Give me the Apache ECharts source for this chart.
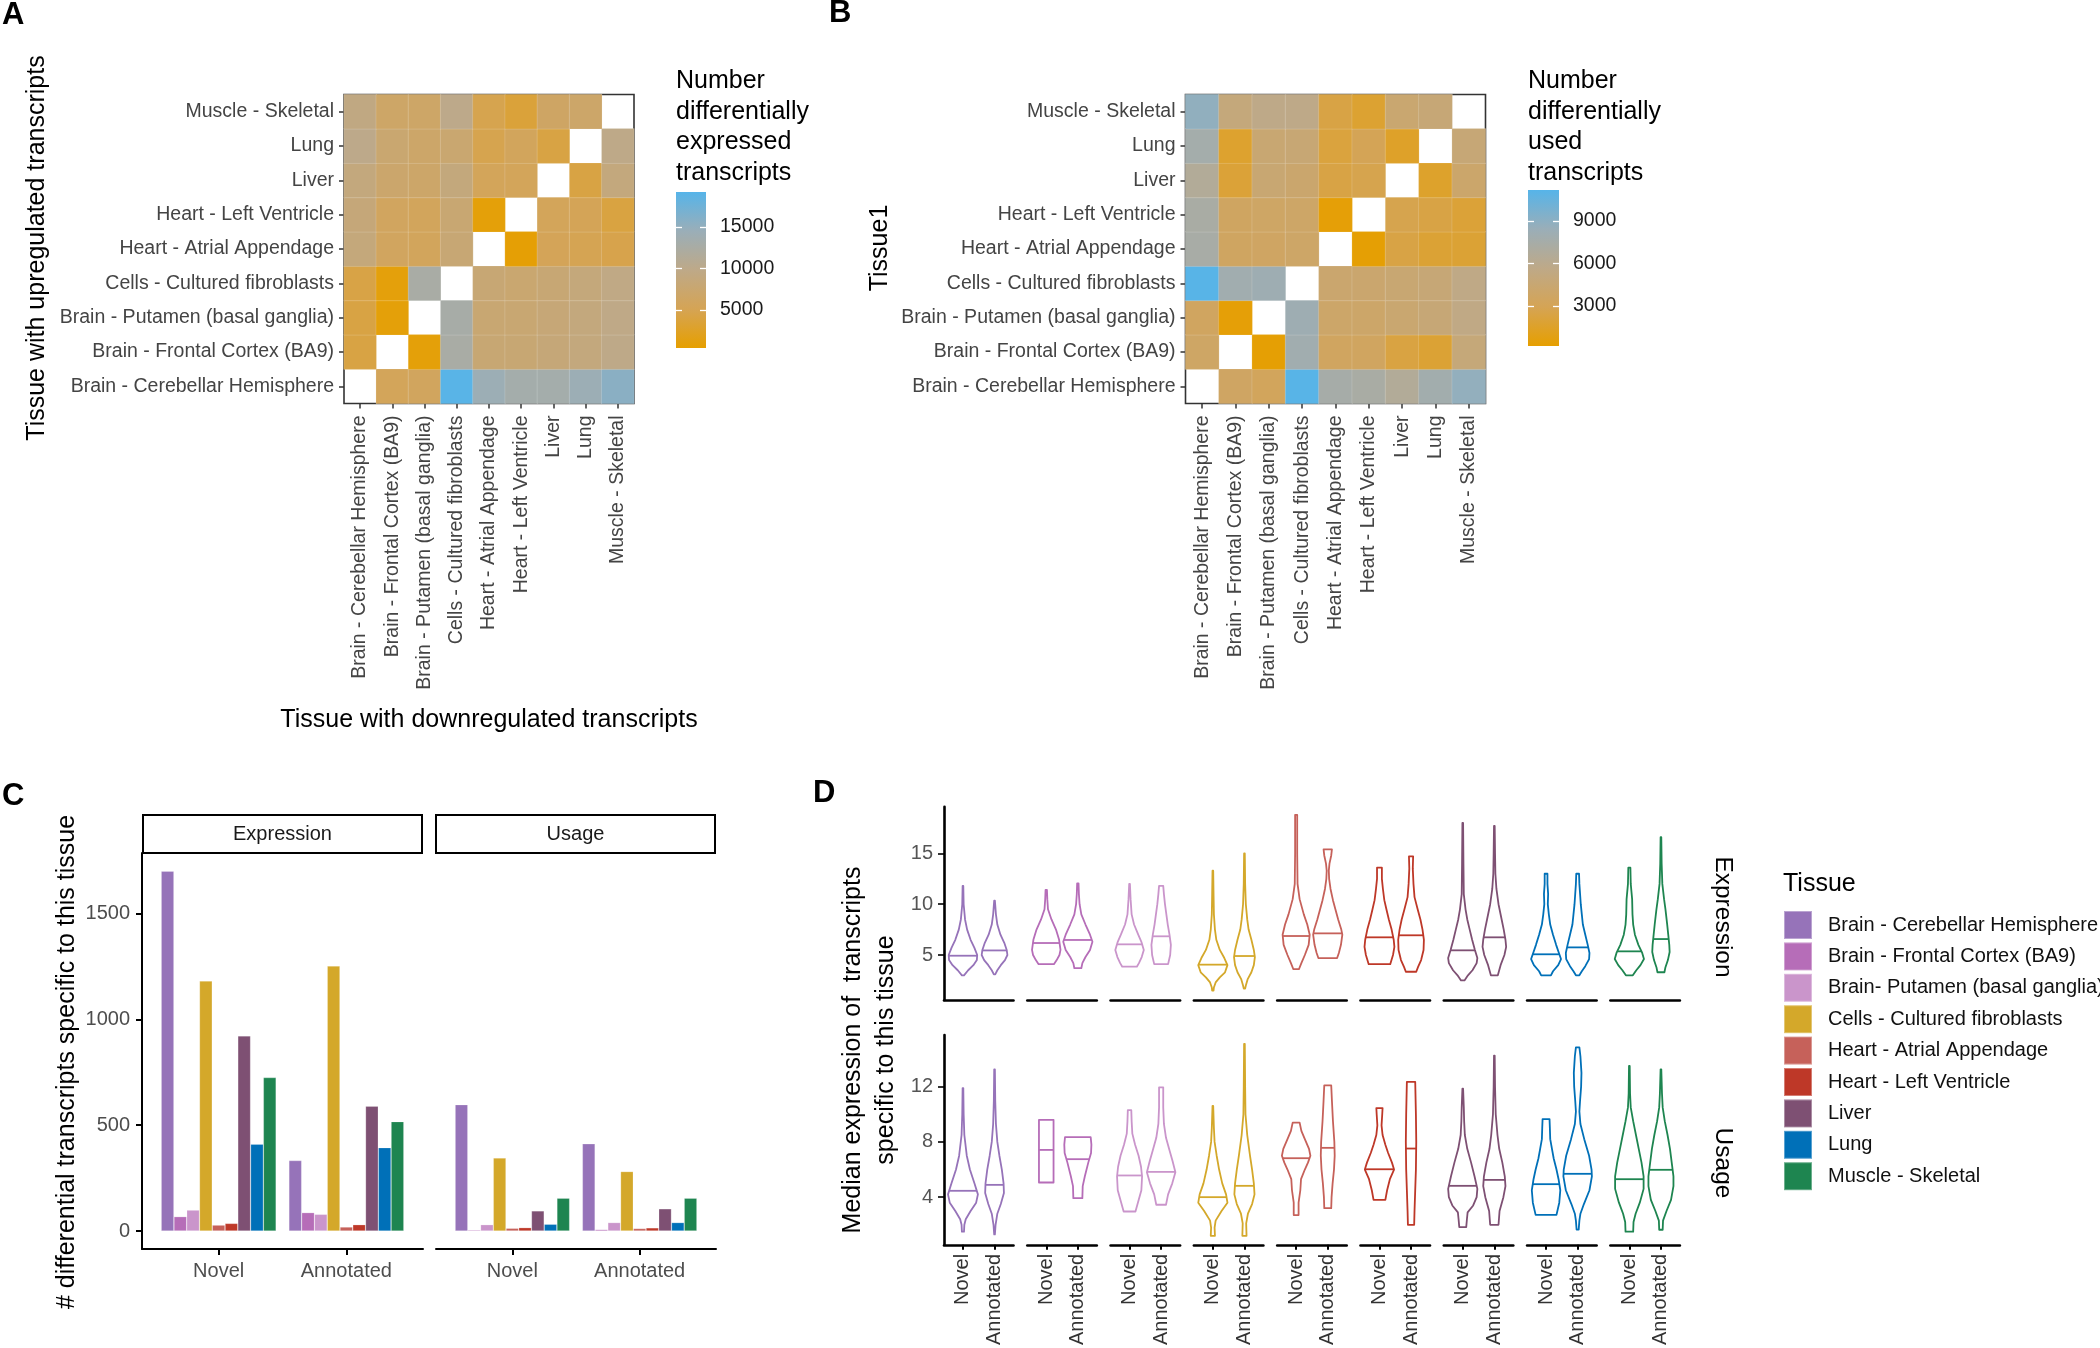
<!DOCTYPE html>
<html><head><meta charset="utf-8">
<script src="https://cdn.jsdelivr.net/npm/echarts@6/dist/echarts.min.js"></script>
<style>html,body{margin:0;padding:0;background:#fff}#c{width:2100px;height:1348px}</style>
</head><body><div id="c"></div>
<script>
const FONT = '"Liberation Sans", Arial, Helvetica, sans-serif';

// ---------- categories ----------
const heatTissues = ['Brain - Cerebellar Hemisphere','Brain - Frontal Cortex (BA9)','Brain - Putamen (basal ganglia)','Cells - Cultured fibroblasts','Heart - Atrial Appendage','Heart - Left Ventricle','Liver','Lung','Muscle - Skeletal'];
const legendTissues = ['Brain - Cerebellar Hemisphere','Brain - Frontal Cortex (BA9)','Brain- Putamen (basal ganglia)','Cells - Cultured fibroblasts','Heart - Atrial Appendage','Heart - Left Ventricle','Liver','Lung','Muscle - Skeletal'];
const tissueColors = ['#9673B9','#B66DB8','#CA95CB','#D4A82A','#C6615A','#BE3828','#7E5073','#0070B8','#1E8550'];
const gradientColors = ['#E69F00','#D5A455','#BEA988','#9AAEB8','#56B4E9'];
const groups = ['Novel','Annotated'];

// ---------- panel A: differentially expressed (rows = upregulated tissue, cols = downregulated) ----------
const deRange = [420, 19200];
const deTicks = [5000, 10000, 15000];
const expressedCounts = [
  [null, 5600, 5900, 19000, 14200, 13200, 13200, 14200, 15600],
  [4200, null, 900, 12600, 7900, 7900, 8300, 8800, 9800],
  [4200, 900, null, 12800, 7800, 7800, 8200, 8800, 9700],
  [4300, 1000, 12600, null, 8000, 7600, 8000, 8600, 9500],
  [8600, 6000, 5800, 8000, null, 700, 5400, 5000, 4600],
  [8400, 6000, 5800, 7800, 900, null, 5600, 5300, 4000],
  [8800, 7200, 7000, 8700, 5600, 5600, null, 4200, 8800],
  [10000, 7600, 7000, 7600, 4800, 5800, 4200, null, 9800],
  [9300, 6800, 6800, 10000, 4800, 3600, 6500, 7000, null]
];
// ---------- panel B: differentially used ----------
const duRange = [176, 11190];
const duTicks = [3000, 6000, 9000];
const usedCounts = [
  [null, 3700, 3300, 11100, 7500, 7300, 6600, 7800, 8700],
  [3800, null, 300, 7900, 3500, 3500, 2300, 1900, 4900],
  [3500, 400, null, 8100, 4000, 4000, 4400, 4700, 5500],
  [11100, 7900, 8100, null, 4300, 4300, 4500, 4700, 5600],
  [7400, 3600, 3700, 3900, null, 300, 2400, 1900, 1900],
  [7300, 3600, 3800, 3900, 400, null, 2700, 2400, 2000],
  [6600, 2000, 4500, 4200, 2400, 2700, null, 1600, 4100],
  [7700, 1700, 4500, 4600, 2200, 3000, 1500, null, 4700],
  [8800, 5000, 5700, 5700, 2400, 1800, 4400, 4700, null]
];

// ---------- panel C: bar counts ----------
const countRange = [-85, 1786];
const countTicks = [0, 500, 1000, 1500];
const exprNovel = [1700, 68, 99, 1181, 28, 36, 922, 410, 725];
const exprAnnotated = [333, 87, 79, 1252, 19, 30, 590, 394, 517];
const usageNovel = [597, 5, 30, 345, 13, 16, 95, 32, 155];
const usageAnnotated = [412, 7, 40, 281, 12, 15, 105, 40, 155];

// ---------- panel D: violins ([value, half-width as fraction of group band]) ----------
const exprRange = [0.57, 19.6];
const exprTicks = [5, 10, 15];
const usageRange = [0.55, 15.74];
const usageTicks = [4, 8, 12];
const exprNovelMedian = [4.93, 6.18, 6.05, 4.05, 6.87, 6.74, 5.46, 5.07, 5.36];
const exprAnnotatedMedian = [5.45, 6.48, 6.84, 4.9, 7.13, 6.94, 6.74, 5.75, 6.57];
const usageNovelMedian = [4.46, 7.42, 5.57, 4.0, 6.82, 6.02, 4.82, 4.94, 5.3];
const usageAnnotatedMedian = [4.89, 6.75, 5.83, 4.82, 7.57, 7.52, 5.25, 5.69, 5.98];
const exprNovelShape = [
  [[11.8,0.01],[10,0.02],[8.5,0.06],[7.5,0.12],[6.5,0.22],[5.7,0.33],[5,0.41],[4.5,0.4],[4,0.3],[3.5,0.15],[3.0,0.03]],
  [[11.4,0.02],[10.5,0.03],[9.5,0.05],[8.5,0.15],[7.5,0.28],[6.5,0.37],[5.5,0.41],[5,0.38],[4.5,0.3],[4.1,0.22]],
  [[12,0.01],[10.5,0.03],[9,0.06],[8,0.13],[7,0.25],[6.3,0.34],[5.5,0.41],[4.8,0.35],[4.2,0.27],[3.85,0.21]],
  [[13.3,0.01],[11,0.02],[9,0.03],[7.5,0.06],[6.5,0.1],[5.5,0.2],[4.7,0.33],[4,0.42],[3.3,0.35],[2.8,0.2],[2.3,0.08],[1.8,0.03],[1.5,0.02]],
  [[18.8,0.03],[15,0.03],[12,0.04],[10.5,0.1],[9,0.22],[8,0.32],[7,0.39],[6,0.36],[5,0.25],[4.2,0.15],[3.6,0.08]],
  [[13.6,0.07],[12.5,0.07],[11.5,0.1],[10.4,0.14],[9.5,0.2],[8.5,0.27],[7.5,0.35],[6.5,0.41],[5.8,0.43],[5,0.39],[4.1,0.31]],
  [[18,0.01],[14,0.02],[11,0.03],[9.5,0.08],[8.5,0.13],[7.5,0.2],[6.5,0.27],[5.5,0.35],[4.7,0.42],[4.2,0.4],[3.5,0.28],[3,0.15],[2.5,0.05]],
  [[13,0.04],[12,0.04],[11,0.06],[10,0.05],[9,0.08],[8,0.12],[7,0.2],[6,0.29],[5.3,0.36],[4.6,0.43],[4,0.35],[3.4,0.2],[3,0.14]],
  [[13.6,0.03],[12,0.04],[10.5,0.08],[9,0.09],[8,0.11],[7,0.16],[6,0.26],[5.2,0.37],[4.6,0.42],[4,0.32],[3.5,0.2],[3,0.1]]
];
const exprAnnotatedShape = [
  [[10.35,0.01],[9,0.04],[8,0.08],[7,0.17],[6.2,0.28],[5.5,0.35],[5,0.37],[4.5,0.3],[4,0.18],[3.5,0.08],[3.1,0.02]],
  [[12.05,0.02],[11,0.03],[10,0.05],[9,0.1],[8,0.22],[7,0.35],[6.3,0.42],[5.5,0.35],[4.8,0.22],[4.2,0.13],[3.7,0.1]],
  [[11.8,0.06],[11,0.08],[10,0.11],[9,0.15],[8,0.19],[7,0.24],[6,0.28],[5,0.26],[4.1,0.2]],
  [[15,0.01],[12,0.02],[10,0.04],[8.5,0.08],[7.5,0.12],[6.5,0.2],[5.5,0.27],[4.8,0.3],[4,0.27],[3.3,0.2],[2.6,0.09],[2,0.04],[1.7,0.02]],
  [[15.4,0.12],[14.8,0.1],[14,0.05],[13.3,0.03],[12.5,0.04],[11.5,0.08],[10.4,0.15],[9.5,0.22],[8.5,0.3],[7.5,0.39],[7,0.42],[6,0.38],[5.2,0.32],[4.7,0.27]],
  [[14.7,0.06],[13.5,0.05],[12,0.07],[10.7,0.1],[9.5,0.19],[8.5,0.27],[7.5,0.33],[6.5,0.37],[5.5,0.36],[4.5,0.29],[3.8,0.2],[3.35,0.15]],
  [[17.7,0.01],[15,0.02],[13,0.03],[11.5,0.06],[10,0.12],[8.5,0.21],[7.5,0.27],[6.5,0.32],[5.8,0.34],[5,0.29],[4,0.18],[3,0.1]],
  [[13,0.04],[12,0.05],[11,0.07],[10,0.09],[9,0.12],[8,0.15],[7,0.22],[6,0.29],[5.2,0.34],[4.6,0.33],[3.9,0.22],[3.4,0.12],[3,0.05]],
  [[16.6,0.01],[14,0.02],[12,0.04],[10.5,0.09],[9.5,0.13],[8,0.18],[7,0.21],[6,0.24],[5.3,0.25],[4.5,0.2],[3.8,0.13],[3.3,0.1]]
];
const usageNovelShape = [
  [[11.9,0.01],[10,0.02],[8.5,0.04],[7,0.11],[6,0.2],[5,0.33],[4.2,0.43],[3.6,0.38],[3,0.22],[2.4,0.08],[2,0.04],[1.5,0.03]],
  [[9.6,0.21],[5.06,0.21]],
  [[10.3,0.05],[9.5,0.06],[8.6,0.08],[7.8,0.16],[7,0.26],[6.2,0.33],[5.5,0.36],[4.5,0.34],[3.6,0.24],[2.96,0.17]],
  [[10.6,0.01],[9,0.03],[8,0.05],[7,0.11],[6,0.18],[5,0.27],[4.2,0.38],[3.6,0.42],[3,0.25],[2.3,0.08],[1.8,0.05],[1.2,0.06]],
  [[9.4,0.1],[8.8,0.15],[8.2,0.25],[7.5,0.37],[7,0.41],[6.5,0.34],[6,0.25],[5.3,0.14],[4.5,0.12],[3.6,0.07],[2.7,0.07]],
  [[10.45,0.09],[10,0.08],[9.2,0.06],[8.5,0.09],[7.8,0.17],[7.2,0.25],[6.5,0.36],[6,0.42],[5.3,0.3],[4.5,0.22],[3.8,0.17]],
  [[11.85,0.01],[10.5,0.03],[9.5,0.04],[8.5,0.06],[7.5,0.13],[6.5,0.24],[5.5,0.34],[4.6,0.42],[4,0.4],[3.4,0.3],[2.9,0.14],[2.4,0.12],[1.83,0.1]],
  [[9.65,0.1],[9,0.11],[8.2,0.12],[7.5,0.17],[6.8,0.22],[6,0.3],[5.3,0.36],[4.5,0.41],[3.6,0.38],[2.72,0.3]],
  [[13.5,0.01],[11.5,0.02],[10.5,0.04],[9.5,0.11],[8.5,0.19],[7.5,0.27],[6.5,0.35],[5.5,0.41],[4.6,0.41],[3.6,0.3],[2.8,0.18],[2.2,0.12],[1.5,0.11]]
];
const usageAnnotatedShape = [
  [[13.25,0.01],[11,0.02],[9.3,0.04],[8,0.08],[7,0.14],[6,0.21],[5,0.26],[4.3,0.27],[3.5,0.18],[2.8,0.08],[2,0.03],[1.3,0.01]],
  [[8.34,0.37],[7.8,0.39],[7.2,0.38],[6.5,0.3],[5.5,0.2],[4.8,0.14],[3.93,0.13]],
  [[11.95,0.06],[10.5,0.06],[9.3,0.08],[8.3,0.14],[7.4,0.24],[6.6,0.33],[5.8,0.41],[5,0.32],[4.2,0.2],[3.45,0.14]],
  [[15.1,0.01],[12,0.02],[10,0.03],[8.5,0.08],[7,0.16],[6,0.22],[5,0.27],[4.2,0.29],[3.5,0.22],[2.8,0.1],[2.1,0.05],[1.2,0.06]],
  [[12.1,0.1],[11,0.12],[9.5,0.15],[8,0.19],[7,0.2],[6,0.18],[5,0.14],[4,0.11],[3.2,0.1]],
  [[12.35,0.12],[10,0.14],[8,0.15],[6,0.14],[4.5,0.12],[3,0.1],[2,0.09]],
  [[14.25,0.01],[12,0.02],[10,0.04],[8.5,0.09],[7.5,0.14],[6.5,0.23],[5.5,0.3],[4.8,0.32],[4,0.26],[3,0.15],[2,0.12]],
  [[14.85,0.05],[14.2,0.08],[13,0.11],[12,0.1],[11,0.07],[10.2,0.05],[9.3,0.08],[8.2,0.19],[7,0.33],[6,0.4],[5.5,0.41],[4.5,0.34],[3.5,0.18],[2.8,0.08],[2.3,0.05],[1.65,0.03]],
  [[13.25,0.01],[11.5,0.03],[10.5,0.05],[9.5,0.11],[8.5,0.19],[7.5,0.26],[6.5,0.31],[5.5,0.36],[4.8,0.36],[3.8,0.29],[3,0.16],[2.3,0.06],[1.64,0.05]]
];

// ---------- build ----------
const grid = [], xAxis = [], yAxis = [], series = [], visualMap = [], graphic = [];
const plainNumber = v => String(v);

function heatPanel(box, matrix, range, ticks, bar) {
  const g = grid.length;
  grid.push({left: box[0], top: box[1], width: box[2], height: box[3], show: true, borderColor: '#333', borderWidth: 1.6, backgroundColor: '#fff'});
  const xi = xAxis.length;
  xAxis.push({gridIndex: g, type: 'category', data: heatTissues,
    axisLine: {show: false, onZero: false},
    axisTick: {show: true, alignWithLabel: true, length: 5, lineStyle: {color: '#333', width: 1.5}},
    axisLabel: {rotate: 90, fontSize: 19.5, color: '#444', margin: 12, fontFamily: FONT},
    splitLine: {show: false}});
  const yi = yAxis.length;
  yAxis.push({gridIndex: g, type: 'category', data: heatTissues,
    axisLine: {show: false, onZero: false},
    axisTick: {show: true, alignWithLabel: true, length: 5, lineStyle: {color: '#333', width: 1.5}},
    axisLabel: {fontSize: 19.5, color: '#444', margin: 10, fontFamily: FONT},
    splitLine: {show: false}});
  const data = [];
  matrix.forEach((row, r) => row.forEach((v, c) => { if (v != null) data.push([c, r, v]); }));
  series.push({type: 'heatmap', xAxisIndex: xi, yAxisIndex: yi, data, silent: true,
    itemStyle: {borderColor: 'rgba(255,255,255,0.2)', borderWidth: 0.8}, emphasis: {disabled: true}});
  visualMap.push({type: 'continuous', show: false, min: range[0], max: range[1], dimension: 2,
    seriesIndex: series.length - 1, inRange: {color: gradientColors}});
  // colour bar
  const cg = grid.length;
  grid.push({left: bar[0], top: bar[1], width: bar[2], height: bar[3]});
  const cx = xAxis.length;
  xAxis.push({gridIndex: cg, type: 'value', min: 0, max: 1, show: false});
  const cy = yAxis.length;
  const tickStyle = {show: true, inside: true, length: 6, customValues: ticks, lineStyle: {color: '#fff', width: 1.3}};
  yAxis.push({gridIndex: cg, type: 'value', min: range[0], max: range[1], position: 'right', z: 10,
    axisLine: {show: false, onZero: false}, splitLine: {show: false}, axisTick: tickStyle,
    axisLabel: {customValues: ticks, formatter: plainNumber, margin: 14, fontSize: 19.5, color: '#1a1a1a', fontFamily: FONT}});
  yAxis.push({gridIndex: cg, type: 'value', min: range[0], max: range[1], position: 'left', z: 10,
    axisLine: {show: false, onZero: false}, splitLine: {show: false}, axisTick: tickStyle, axisLabel: {show: false}});
  const stops = gradientColors.map((c, i) => ({offset: i / (gradientColors.length - 1), color: c}));
  series.push({type: 'custom', xAxisIndex: cx, yAxisIndex: cy, silent: true, z: 1,
    data: [[0, range[0], 1, range[1]]],
    renderItem: (p, api) => {
      const a = api.coord([api.value(0), api.value(3)]);
      const b = api.coord([api.value(2), api.value(1)]);
      return {type: 'rect', shape: {x: a[0], y: a[1], width: b[0] - a[0], height: b[1] - a[1]},
        style: {fill: new echarts.graphic.LinearGradient(0, 1, 0, 0, stops)}};
    }});
}

heatPanel([344, 94.5, 290, 309], expressedCounts, deRange, deTicks, [676, 192, 30, 156]);
heatPanel([1185.5, 94.5, 300, 309], usedCounts, duRange, duTicks, [1528, 190, 31, 156]);

// ---------- panel C ----------
function barPanel(panelLeft, panelWidth, novel, annotated, showY) {
  const top = 853, height = 396;
  const g = grid.length;
  grid.push({left: panelLeft, top, width: panelWidth, height});
  xAxis.push({gridIndex: g, type: 'value', min: 0, max: 1,
    axisLine: {show: true, onZero: false, lineStyle: {color: '#000', width: 2}},
    axisTick: {show: false}, axisLabel: {show: false}, splitLine: {show: false}});
  yAxis.push({gridIndex: g, type: 'value', min: countRange[0], max: countRange[1], show: showY,
    axisLine: {show: true, onZero: false, lineStyle: {color: '#000', width: 2}},
    axisTick: {show: true, length: 6, customValues: countTicks, lineStyle: {color: '#000', width: 2}},
    axisLabel: {customValues: countTicks, formatter: plainNumber, fontSize: 20, color: '#4D4D4D', margin: 12, fontFamily: FONT},
    splitLine: {show: false}});
  const unit = panelWidth / 2.2;
  const bg = grid.length;
  grid.push({left: panelLeft + 0.1 * unit, top, width: 2 * unit, height});
  const xi = xAxis.length;
  xAxis.push({gridIndex: bg, type: 'category', data: groups,
    axisLine: {show: false, onZero: false},
    axisTick: {show: true, alignWithLabel: true, length: 6, lineStyle: {color: '#000', width: 2}},
    axisLabel: {fontSize: 20, color: '#4D4D4D', margin: 12, fontFamily: FONT}});
  const yi = yAxis.length;
  yAxis.push({gridIndex: bg, type: 'value', min: countRange[0], max: countRange[1], show: false});
  for (let i = 0; i < 9; i++) {
    series.push({type: 'bar', name: legendTissues[i], xAxisIndex: xi, yAxisIndex: yi,
      data: [novel[i], annotated[i]], barGap: '0%', barCategoryGap: '10%', silent: true,
      itemStyle: {color: tissueColors[i], borderColor: 'rgba(255,255,255,0.35)', borderWidth: 0.6}});
  }
}
barPanel(142, 281, exprNovel, exprAnnotated, true);
barPanel(436, 280, usageNovel, usageAnnotated, false);

// ---------- panel D ----------
function halfWidthAt(shape, v) {
  for (let k = 0; k < shape.length - 1; k++) {
    const [y0, w0] = shape[k], [y1, w1] = shape[k + 1];
    if (v <= y0 && v >= y1) return w0 + (w1 - w0) * (y0 - v) / (y0 - y1);
  }
  return shape[shape.length - 1][1];
}
function violinRenderer(shapeN, shapeA, color) {
  return (p, api) => {
    const shape = api.value(2) === 0 ? shapeN : shapeA;
    const x = api.value(0), med = api.value(1);
    const S = 1.1;
    const right = shape.map(([y, w]) => api.coord([x + w * S, y]));
    const left = shape.slice().reverse().map(([y, w]) => api.coord([x - w * S, y]));
    const hw = halfWidthAt(shape, med) * S;
    const m0 = api.coord([x - hw, med]), m1 = api.coord([x + hw, med]);
    return {type: 'group', children: [
      {type: 'polygon', shape: {points: right.concat(left)}, style: {fill: 'none', stroke: color, lineWidth: 1.8, lineJoin: 'round'}},
      {type: 'line', shape: {x1: m0[0], y1: m0[1], x2: m1[0], y2: m1[1]}, style: {stroke: color, lineWidth: 1.8}}
    ]};
  };
}
const rows = [
  {top: 806.7, height: 193.3, range: exprRange, ticks: exprTicks, medN: exprNovelMedian, medA: exprAnnotatedMedian, shN: exprNovelShape, shA: exprAnnotatedShape, bottom: false},
  {top: 1035, height: 210, range: usageRange, ticks: usageTicks, medN: usageNovelMedian, medA: usageAnnotatedMedian, shN: usageNovelShape, shA: usageAnnotatedShape, bottom: true}
];
rows.forEach(row => {
  for (let i = 0; i < 9; i++) {
    const g = grid.length;
    grid.push({left: 944 + i * 83.3, top: row.top, width: 69.5, height: row.height});
    const xi = xAxis.length;
    xAxis.push({gridIndex: g, type: 'value', min: 0.4, max: 2.6,
      axisLine: {show: true, onZero: false, lineStyle: {color: '#000', width: 2.6}},
      axisTick: {show: row.bottom, length: 5, customValues: [1, 2], lineStyle: {color: '#000', width: 2}},
      axisLabel: {show: row.bottom, customValues: [1, 2], rotate: 90, fontSize: 20, color: '#333', margin: 9, fontFamily: FONT,
        formatter: v => groups[Math.round(v) - 1] || ''},
      splitLine: {show: false}});
    const yi = yAxis.length;
    yAxis.push({gridIndex: g, type: 'value', min: row.range[0], max: row.range[1], show: i === 0,
      axisLine: {show: true, onZero: false, lineStyle: {color: '#000', width: 2.6}},
      axisTick: {show: true, length: 6, customValues: row.ticks, lineStyle: {color: '#000', width: 1.6}},
      axisLabel: {customValues: row.ticks, formatter: plainNumber, fontSize: 20, color: '#555', margin: 11, fontFamily: FONT},
      splitLine: {show: false}});
    series.push({type: 'custom', xAxisIndex: xi, yAxisIndex: yi, silent: true,
      data: [[1, row.medN[i], 0], [2, row.medA[i], 1]],
      renderItem: violinRenderer(row.shN[i], row.shA[i], tissueColors[i])});
  }
});

// ---------- texts ----------
function txt(x, y, text, size, o) {
  o = o || {};
  graphic.push({type: 'text', x, y, rotation: o.rot || 0, silent: true, z: 100,
    style: {text, fontSize: size, fontFamily: FONT, fontWeight: o.bold ? 'bold' : 'normal',
      fill: o.color || '#000', align: o.align || 'center', verticalAlign: o.va || 'middle', lineHeight: o.lh}});
}
txt(2, 15, 'A', 31, {bold: true, align: 'left'});
txt(829, 13, 'B', 31, {bold: true, align: 'left'});
txt(2, 796, 'C', 31, {bold: true, align: 'left'});
txt(813, 793, 'D', 31, {bold: true, align: 'left'});

txt(37, 248, 'Tissue with upregulated transcripts', 25, {rot: Math.PI / 2});
txt(489, 720, 'Tissue with downregulated transcripts', 25);
txt(676, 127, 'Number\ndifferentially\nexpressed\ntranscripts', 25, {align: 'left', lh: 30.5});
txt(880, 248, 'Tissue1', 25, {rot: Math.PI / 2});
txt(1528, 127, 'Number\ndifferentially\nused\ntranscripts', 25, {align: 'left', lh: 30.5});

txt(67, 1062, '# differential transcripts specific to this tissue', 25, {rot: Math.PI / 2});
graphic.push({type: 'rect', shape: {x: 143, y: 815, width: 279, height: 38}, style: {fill: '#fff', stroke: '#000', lineWidth: 2}, silent: true});
graphic.push({type: 'rect', shape: {x: 436, y: 815, width: 279, height: 38}, style: {fill: '#fff', stroke: '#000', lineWidth: 2}, silent: true});
txt(282.5, 834, 'Expression', 20, {color: '#1a1a1a'});
txt(575.5, 834, 'Usage', 20, {color: '#1a1a1a'});

txt(870, 1050, 'Median expression of  transcripts\nspecific to this tissue', 25, {rot: Math.PI / 2, lh: 33});
txt(1723, 917, 'Expression', 24.5, {rot: -Math.PI / 2});
txt(1723, 1163, 'Usage', 24.5, {rot: -Math.PI / 2});
txt(1783, 884, 'Tissue', 25, {align: 'left'});

const chart = echarts.init(document.getElementById('c'), null, {renderer: 'canvas', width: 2100, height: 1348});
chart.setOption({
  animation: false,
  backgroundColor: '#fff',
  textStyle: {fontFamily: FONT},
  grid, xAxis, yAxis, series, visualMap, graphic,
  legend: [{data: legendTissues, orient: 'vertical', left: 1783, top: 910, padding: 0,
    itemWidth: 28, itemHeight: 28, itemGap: 1.4, icon: 'rect', selectedMode: false,
    textStyle: {fontSize: 20, fontFamily: FONT, color: '#111', padding: [0, 0, 0, 11]}}],
  tooltip: {show: false}
});
</script></body></html>
